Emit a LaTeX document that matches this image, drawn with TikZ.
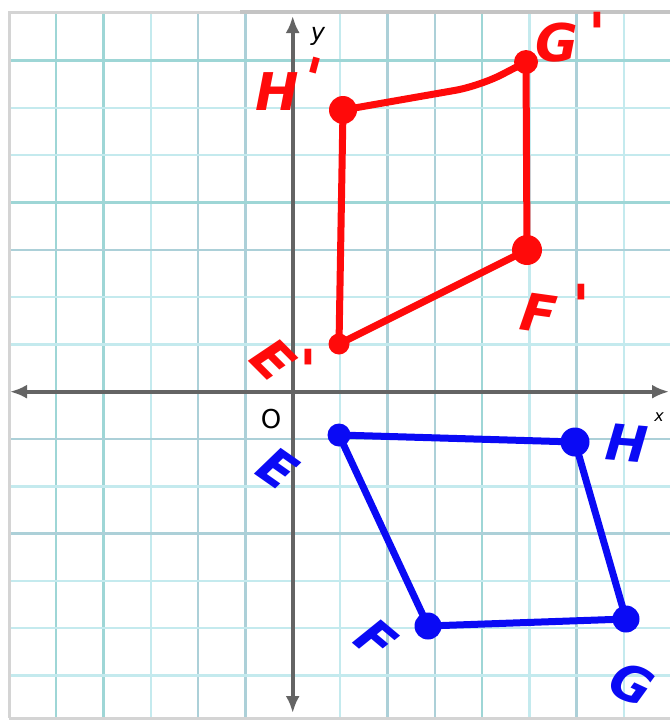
\documentclass[tikz,border=0pt]{standalone}
\usepackage{fontspec}
\setmainfont{DejaVu Sans}
\usetikzlibrary{arrows.meta}
\definecolor{gridA}{RGB}{158,214,214}
\definecolor{gridB}{RGB}{196,234,238}
\definecolor{gridC}{RGB}{172,208,216}
\definecolor{framec}{RGB}{212,212,212}
\definecolor{axisc}{RGB}{100,100,100}
\definecolor{redc}{RGB}{255,10,10}
\definecolor{bluec}{RGB}{10,10,245}
\newfontfamily\handfont{DejaVu Sans}
\tikzset{
  gridln/.style={line width=2.4pt},
  framel/.style={line width=3pt, draw=framec},
  axisln/.style={line width=3.6pt, draw=axisc, {Latex[length=17pt,width=14pt]}-{Latex[length=17pt,width=14pt]}},
  redln/.style={line width=7pt, draw=redc, line cap=round, line join=round},
  blueln/.style={line width=7pt, draw=bluec, line cap=round, line join=round},
  rdot/.style={circle, fill=redc, inner sep=0pt, minimum size=#1},
  bdot/.style={circle, fill=bluec, inner sep=0pt, minimum size=#1},
  rlbl/.style={text=redc, font=\handfont\bfseries\itshape\fontsize{52}{52}\selectfont, inner sep=0pt},
  blbl/.style={text=bluec, font=\handfont\bfseries\itshape\fontsize{50}{50}\selectfont, inner sep=0pt},
  rprime/.style={text=redc, font=\handfont\bfseries\fontsize{58}{58}\selectfont, inner sep=0pt},
  axlbl/.style={text=black, inner sep=0pt},
}
\begin{document}
\begin{tikzpicture}[x=1pt,y=-1pt]
\useasboundingbox (0,0) rectangle (670,720);
\fill[white] (0,0) rectangle (670,720);
% vertical grid lines
\foreach \xx/\cc in {56/gridA,103.6/gridA,150.9/gridB,198.2/gridC,245.5/gridC,340.1/gridB,387.4/gridC,434.7/gridC,482/gridA,529.3/gridB,576.6/gridC,623.9/gridB}
  \draw[gridln, draw=\cc] (\xx,13) -- (\xx,718);
% horizontal grid lines
\foreach \yy/\cc in {60.6/gridA,107.9/gridB,155.2/gridB,202.5/gridA,249.8/gridC,297.1/gridB,344.4/gridB,439/gridC,486.3/gridB,533.6/gridC,580.9/gridB,628.2/gridB,675.5/gridB}
  \draw[gridln, draw=\cc] (9,\yy) -- (670,\yy);
% frame
\draw[framel] (9,718) -- (9,12) -- (670,12);
\draw[line width=4pt, draw={rgb,255:red,196;green,196;blue,196}] (240,12) -- (670,12);
\draw[framel] (9,718) -- (670,718);
% axes
\coordinate (xl) at (10,391.7);
\coordinate (xr) at (669,391.7);
\coordinate (yt) at (292.7,16);
\coordinate (yb) at (292.7,713);
\draw[axisln] (xl) -- (xr);
\draw[axisln] (yt) -- (yb);
\node[axlbl, font=\itshape\fontsize{24}{24}\selectfont] (ylab) at (318,36) {y};
\node[axlbl, font=\itshape\fontsize{16}{16}\selectfont] (xlab) at (659,417) {x};
\node[axlbl, font=\fontsize{26}{26}\selectfont] (olab) at (271,419) {O};
% red figure
\node[rdot=28pt] (Hp) at (343,110) {};
\node[rdot=24pt] (Gp) at (526,62) {};
\node[rdot=30pt] (Fp) at (527,250) {};
\node[rdot=21pt] (Ep) at (339,344) {};
\coordinate (hg) at (480,86);
\draw[redln, rounded corners=25pt] (Hp.center) -- (hg) -- (Gp.center);
\draw[redln] (Gp.center) -- (Fp.center);
\draw[redln] (Fp.center) -- (Ep.center);
\draw[redln] (Ep.center) -- (Hp.center);
% blue figure
\node[bdot=23pt] (E) at (339,435) {};
\node[bdot=29pt] (H) at (575,442) {};
\node[bdot=27pt] (G) at (626,619) {};
\node[bdot=27pt] (F) at (428,626) {};
\draw[blueln] (E.center) -- (H.center);
\draw[blueln] (H.center) -- (G.center);
\draw[blueln] (G.center) -- (F.center);
\draw[blueln] (F.center) -- (E.center);
% red labels
\node[rlbl] (lHp) at (277,92) {H};
\node[rprime, rotate=-15] (pHp) at (312,78) {'};
\node[rlbl] (lGp) at (557,43) {G};
\node[rprime] (pGp) at (597,33) {'};
\node[rlbl, rotate=-8] (lFp) at (539,313) {F};
\node[rprime] (pFp) at (581,305) {'};
\node[rlbl, rotate=-45] (lEp) at (273,360) {E};
\node[rprime] (pEp) at (308,370) {'};
% blue labels
\node[blbl, rotate=-35] (lE) at (278,468) {E};
\node[blbl, rotate=-5] (lH) at (627,443) {H};
\node[blbl, rotate=-40] (lF) at (376,640) {F};
\node[blbl, rotate=-25] (lG) at (632,684) {G};
\end{tikzpicture}
\end{document}
